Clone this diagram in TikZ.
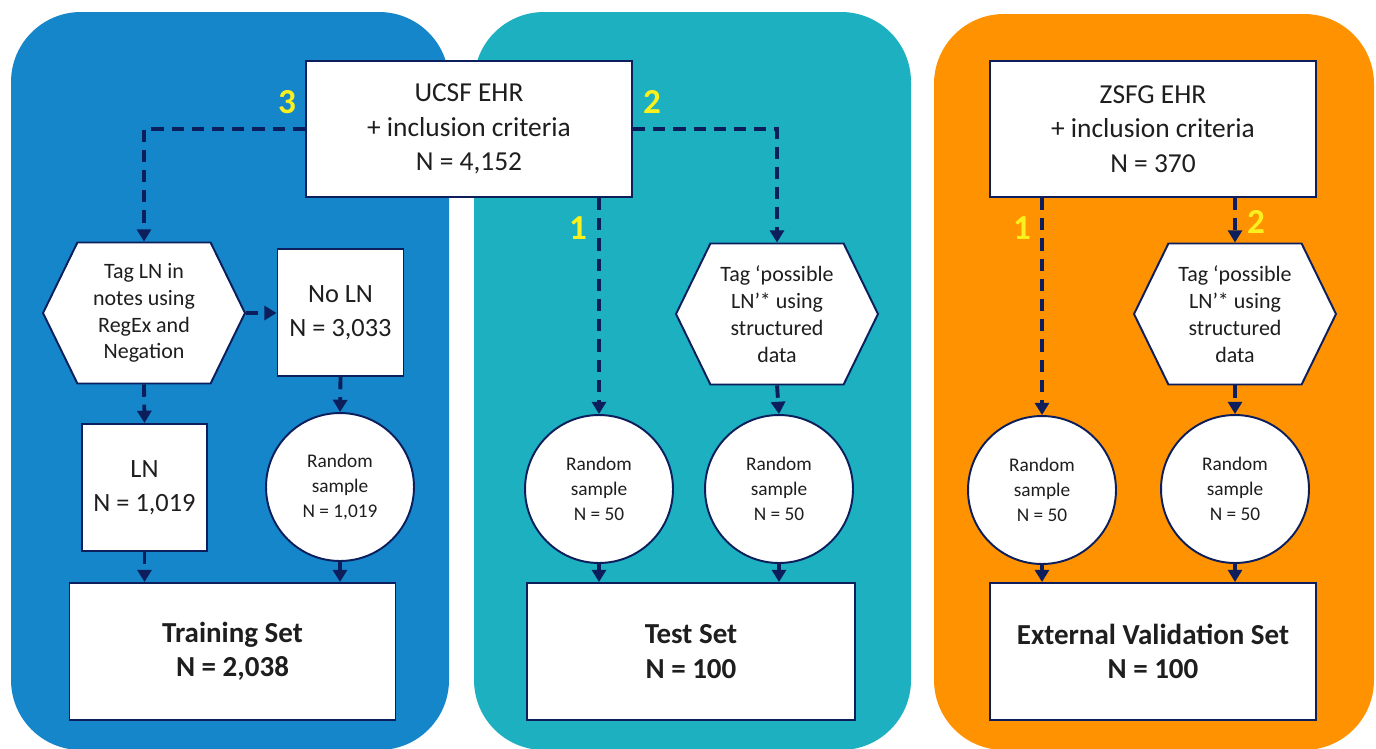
\documentclass[tikz,border=0pt]{standalone}
\usepackage{fontspec}
\setmainfont{Carlito}
\usetikzlibrary{arrows.meta,shapes.symbols}

\definecolor{panelblue}{RGB}{22,134,202}
\definecolor{panelteal}{RGB}{28,176,192}
\definecolor{panelorange}{RGB}{255,146,0}
\definecolor{navy}{RGB}{12,30,92}
\definecolor{inkgray}{RGB}{30,30,30}
\definecolor{numyellow}{RGB}{250,240,30}

\begin{document}
\begin{tikzpicture}[x=0.02cm, y=-0.02cm,
    panel/.style={rounded corners=1.4cm},
    box/.style={draw=navy, line width=1.1pt, fill=white, text=inkgray, align=center, inner sep=0pt, font=\fontsize{15}{19.5}\selectfont},
    hexbox/.style={box, shape=signal, signal to=east and west, signal pointer angle=128, minimum width=4.04cm, minimum height=2.82cm, font=\fontsize{12.5}{15.3}\selectfont},
    circbox/.style={box, shape=circle, minimum size=2.96cm, font=\fontsize{11}{14.2}\selectfont},
    setbox/.style={box, minimum width=6.52cm, minimum height=2.74cm, font=\bfseries\fontsize{16.5}{19.5}\selectfont},
    srcbox/.style={box, minimum width=6.52cm, minimum height=2.72cm, font=\fontsize{15.6}{19.8}\selectfont},
    flow/.style={draw=navy, line width=2.2pt, dash pattern=on 7pt off 4.5pt, -{Triangle[width=8pt,length=7pt]}},
    num/.style={text=numyellow, font=\bfseries\fontsize{20}{20}\selectfont}]
  \useasboundingbox (0,0) rectangle (1376,748);
  \fill[white] (0,0) rectangle (1376,748);

  % panels
  \fill[panelblue, panel] (11,12) rectangle (449,750);
  \fill[panelteal, panel] (474,12) rectangle (911,750);
  \fill[panelorange, panel] (934,14) rectangle (1374,750);

  % training
  \node[srcbox] (ucsf) at (469,129) {UCSF EHR\\+ inclusion criteria\\N = 4,152};
  \node[hexbox] (tagnotes) at (144,313) {Tag LN in\\notes using\\RegEx and\\Negation};
  \node[box, minimum width=2.52cm, minimum height=2.54cm] (noln) at (340.5,312.5) {No LN\\N = 3,033};
  \node[box, minimum width=2.5cm, minimum height=2.54cm] (ln) at (144.5,487.5) {LN\\N = 1,019};
  \node[circbox] (randtrain) at (340,487) {Random\\sample\\N = 1,019};
  \node[setbox] (train) at (232.5,651.5) {Training Set\\N = 2,038};

  % test
  \node[hexbox] (tagtest) at (777,314) {Tag `possible\\LN'* using\\structured\\data};
  \node[circbox] (randtesta) at (599,489) {Random\\sample\\N = 50};
  \node[circbox] (randtestb) at (779,489) {Random\\sample\\N = 50};
  \node[setbox, minimum width=6.56cm] (test) at (691,651.5) {Test Set\\N = 100};

  % external validation
  \node[srcbox] (zsfg) at (1153,129) {ZSFG EHR\\+ inclusion criteria\\N = 370};
  \node[hexbox] (tagext) at (1235,314) {Tag `possible\\LN'* using\\structured\\data};
  \node[circbox] (randexta) at (1042,490) {Random\\sample\\N = 50};
  \node[circbox] (randextb) at (1235,489) {Random\\sample\\N = 50};
  \node[setbox] (extval) at (1153,651.5) {External Validation Set\\N = 100};

  % connectors
  \draw[flow] (ucsf.west) -| (tagnotes.north);
  \draw[flow] (ucsf.east) -| (tagtest.north);
  \draw[flow] (ucsf.south -| randtesta.north) -- (randtesta.north);
  \draw[flow] (tagnotes.east) -- (noln.west |- tagnotes.east);
  \draw[flow] (tagnotes.south) -- (ln.north);
  \draw[flow] (noln.south) -- (randtrain.north);
  \draw[flow] (ln.south) -- (train.north -| ln.south);
  \draw[flow] (randtrain.south) -- (train.north -| randtrain.south);
  \draw[flow] (tagtest.south) -- (randtestb.north);
  \draw[flow] (randtesta.south) -- (test.north -| randtesta.south);
  \draw[flow] (randtestb.south) -- (test.north -| randtestb.south);
  \draw[flow] (zsfg.south -| randexta.north) -- (randexta.north);
  \draw[flow] (zsfg.south -| tagext.north) -- (tagext.north);
  \draw[flow] (tagext.south) -- (randextb.north);
  \draw[flow] (randexta.south) -- (extval.north -| randexta.south);
  \draw[flow] (randextb.south) -- (extval.north -| randextb.south);

  % route numbers
  \node[num] (n3) at (287,102) {3};
  \node[num] (n2a) at (652,102) {2};
  \node[num] (n1a) at (578,228) {1};
  \node[num] (n1b) at (1022,228) {1};
  \node[num] (n2b) at (1256,222) {2};
\end{tikzpicture}
\end{document}
